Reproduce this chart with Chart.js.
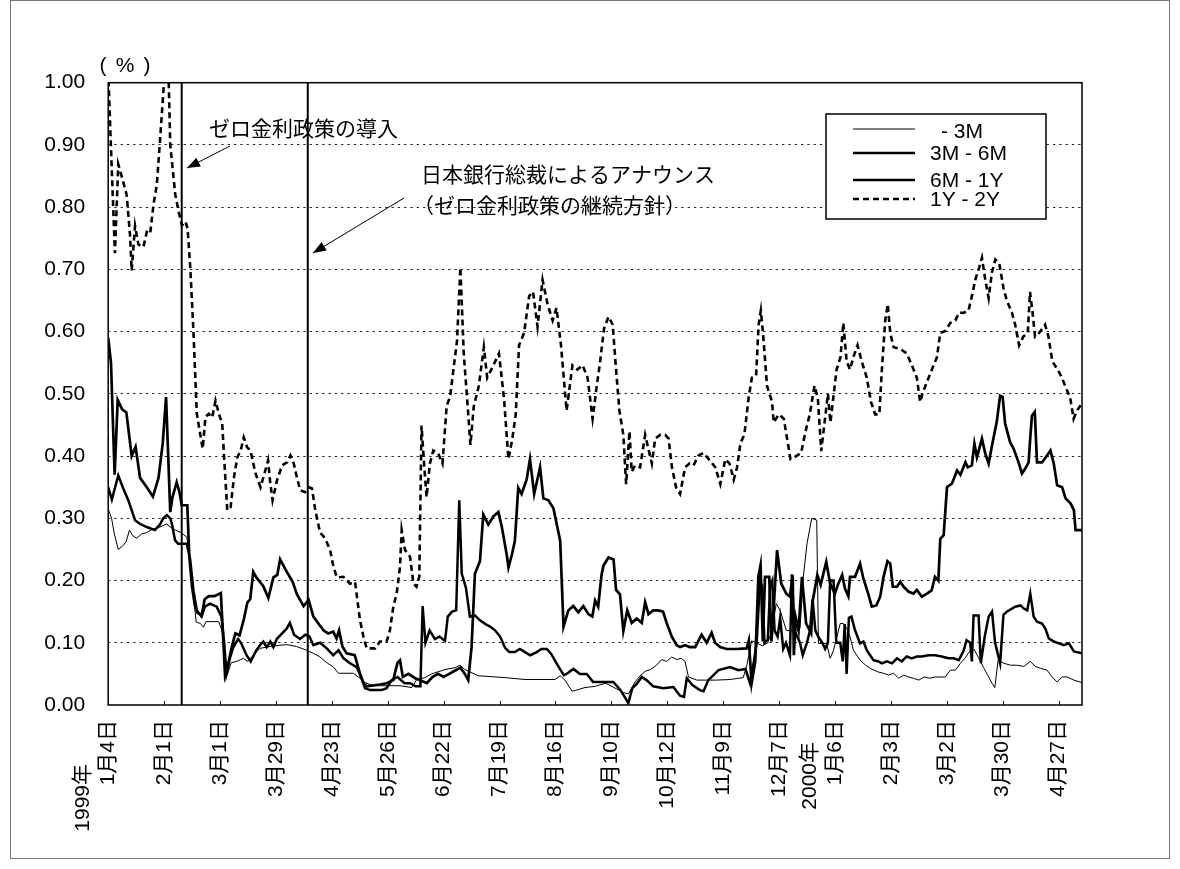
<!DOCTYPE html>
<html>
<head>
<meta charset="utf-8">
<script src="https://cdn.jsdelivr.net/npm/chart.js@4.4.1/dist/chart.umd.min.js"></script>
<style>
  body { margin: 0; background: #fff; }
</style>
</head>
<body>
<canvas id="myChart" width="1180" height="869"></canvas>
<script>
// x values are business-day counts from 1999/1/4 (one tick label every 20 days)
const tickLabels = ['1月4日', '2月1日', '3月1日', '3月29日', '4月23日', '5月26日', '6月22日', '7月19日', '8月16日',
  '9月10日', '10月12日', '11月9日', '12月7日', '1月6日', '2月3日', '3月2日', '3月30日', '4月27日']
const yearTicks = [0, 13]
const yearNames = ['1999年', '2000年']
const lastDay = 348.4
const eventDays = [26.3, 71.4]
const seriesNames = ['- 3M', '3M - 6M', '6M - 1Y', '1Y - 2Y']

// - 3M
const dayShort = [0, 1.2, 2.2, 3.6, 5, 6.4, 7.6, 8.8, 10.2, 12, 13.8, 16, 18, 19.5, 20.9, 22.5, 24.1, 26, 28.1, 29.3,
  30.5, 31.5, 33, 34.1, 35, 39.5, 40.7, 41.7, 42.6, 44, 46, 48.4, 50, 51.9, 54.3, 57.9, 61.5, 63.9, 67.4, 71,
  73.4, 75.5, 78.2, 80.6, 82.4, 87.7, 90.1, 91.9, 94.9, 97.8, 104.4, 108.6, 110.4, 113.3, 115.7, 120.5, 124.1, 125.9, 127.6, 132.4,
  142, 149.1, 159.9, 161.7, 163.4, 166, 170.6, 174.2, 178, 181, 184.3, 186.1, 188.5, 190.3, 192.1, 194, 196.2, 198, 199.8, 201.6,
  203.4, 205, 206.4, 207.6, 210.6, 217.7, 222.5, 227.2, 228.5, 230.2, 232, 234, 236, 237.5, 239, 240.4, 242.6, 245.7, 247.5, 248.7,
  250, 251.7, 253.5, 254.1, 257, 258.3, 259.5, 261.9, 263, 264.3, 265.4, 266.6, 269, 271, 273, 275.5, 277.4, 279.2, 281, 282.8,
  284.6, 286.4, 288, 290, 291.9, 294, 295.8, 297.7, 299.5, 301.3, 303.1, 304.9, 306.5, 308, 309.7, 311.5, 313.2, 315, 316.2, 317.2,
  318.4, 320.5, 322.8, 325, 327.6, 329.9, 331.7, 333.5, 335.9, 337.7, 339.5, 341.3, 343.1, 345.5, 348.4]
const valShort = [0.315, 0.30, 0.275, 0.25, 0.255, 0.262, 0.281, 0.272, 0.268, 0.275, 0.277, 0.283, 0.285, 0.288, 0.291, 0.285, 0.281, 0.277, 0.27, 0.235,
  0.175, 0.133, 0.131, 0.125, 0.134, 0.134, 0.12, 0.088, 0.048, 0.068, 0.07, 0.075, 0.07, 0.08, 0.091, 0.094, 0.096, 0.097, 0.094, 0.088,
  0.083, 0.078, 0.068, 0.061, 0.051, 0.051, 0.043, 0.036, 0.031, 0.031, 0.031, 0.028, 0.041, 0.044, 0.05, 0.057, 0.06, 0.064, 0.057, 0.047,
  0.044, 0.041, 0.041, 0.047, 0.04, 0.022, 0.028, 0.03, 0.035, 0.028, 0.02, 0.018, 0.037, 0.047, 0.054, 0.057, 0.064, 0.073, 0.07, 0.077,
  0.073, 0.075, 0.07, 0.045, 0.04, 0.04, 0.041, 0.044, 0.064, 0.103, 0.1, 0.095, 0.1, 0.12, 0.163, 0.152, 0.12, 0.118, 0.123, 0.206,
  0.259, 0.3, 0.297, 0.099, 0.099, 0.075, 0.088, 0.131, 0.131, 0.123, 0.11, 0.088, 0.072, 0.064, 0.058, 0.053, 0.051, 0.048, 0.051, 0.043,
  0.048, 0.045, 0.043, 0.04, 0.045, 0.043, 0.045, 0.045, 0.045, 0.056, 0.056, 0.067, 0.075, 0.085, 0.09, 0.075, 0.06, 0.045, 0.035, 0.028,
  0.072, 0.067, 0.064, 0.064, 0.062, 0.07, 0.062, 0.059, 0.056, 0.045, 0.037, 0.045, 0.045, 0.04, 0.036]

// 3M - 6M
const day3to6 = [0, 1.3, 3.6, 5.2, 7.2, 9.6, 11.4, 13.8, 16.7, 18.5, 19.7, 21, 22.2, 22.8, 23.9, 25, 28.1, 29.3, 30.5, 31.7,
  33.4, 34.6, 36.4, 38.8, 40.5, 41.5, 42.3, 43.5, 44.8, 46.5, 47.5, 49.5, 51, 53, 54.3, 55.5, 56.7, 58, 59.1, 60.3,
  61.8, 63.9, 65, 66.5, 68.6, 70.5, 72, 73.4, 75.8, 78.2, 80.5, 82.4, 84.2, 86.5, 88.9, 90.7, 91.9, 93.7, 97.8, 99.6,
  101.4, 103.5, 106, 108, 110, 111.7, 112.5, 113.5, 115, 116.9, 118.5, 120.5, 121.5, 123, 124.5, 125.6, 126.5, 128, 129.4, 131.2,
  133, 135, 136.6, 138.4, 140.2, 142, 143.5, 145.5, 147.3, 149.1, 151, 153.3, 155, 156.9, 158.5, 160, 161.6, 163, 164, 166.4,
  168.8, 171.2, 173.5, 180.7, 183.1, 184.5, 186.1, 187.5, 189.1, 190.9, 192.6, 195, 198.6, 202.2, 204.6, 206, 207, 209, 211.7, 213,
  214.7, 218.4, 222.5, 225.4, 228, 229.6, 231, 232, 233.2, 234, 234.8, 236, 236.8, 237.6, 238.4, 239.5, 240.4, 241.5, 242.5, 243.9,
  244.6, 245.5, 246.5, 247.5, 248.5, 250, 251.1, 252, 253, 254, 255.5, 256.5, 257.5, 258.3, 259.5, 260.5, 261.9, 262.8, 263.5, 264.2,
  265, 265.9, 267.2, 269, 270.2, 271.4, 272.6, 273.8, 275.6, 276.8, 278.6, 280.4, 282.2, 283.9, 285.7, 287.5, 289.3, 291.1, 293.5, 295.8,
  298.2, 300.6, 302.5, 304.3, 306.1, 307.1, 308.4, 309, 309.6, 311.4, 312.2, 313.6, 315, 316.2, 317.3, 319.1, 320.3, 321.5, 324.5, 326.4,
  327.6, 328.8, 329.9, 331.1, 332.3, 334.1, 335.3, 336.5, 338.3, 340.1, 341.9, 343.7, 345.5, 348.4]
const val3to6 = [0.35, 0.33, 0.369, 0.35, 0.329, 0.297, 0.291, 0.286, 0.281, 0.29, 0.30, 0.305, 0.30, 0.291, 0.265, 0.259, 0.259, 0.235, 0.184, 0.152,
  0.142, 0.158, 0.163, 0.158, 0.142, 0.10, 0.05, 0.075, 0.093, 0.106, 0.1, 0.08, 0.07, 0.088, 0.096, 0.102, 0.093, 0.102, 0.093, 0.106,
  0.113, 0.123, 0.132, 0.113, 0.106, 0.113, 0.11, 0.096, 0.1, 0.091, 0.08, 0.088, 0.075, 0.067, 0.061, 0.043, 0.027, 0.024, 0.024, 0.027,
  0.04, 0.045, 0.035, 0.035, 0.03, 0.03, 0.159, 0.10, 0.12, 0.106, 0.11, 0.103, 0.142, 0.15, 0.152, 0.329, 0.211, 0.188, 0.142, 0.144,
  0.136, 0.13, 0.126, 0.12, 0.11, 0.092, 0.085, 0.085, 0.09, 0.085, 0.08, 0.085, 0.09, 0.09, 0.082, 0.07, 0.058, 0.048, 0.05, 0.058,
  0.05, 0.05, 0.037, 0.037, 0.025, 0.015, 0.003, 0.027, 0.034, 0.045, 0.04, 0.03, 0.027, 0.029, 0.015, 0.013, 0.043, 0.032, 0.024, 0.022,
  0.04, 0.056, 0.061, 0.056, 0.058, 0.035, 0.07, 0.1, 0.2, 0.19, 0.1, 0.105, 0.19, 0.2, 0.12, 0.11, 0.14, 0.09, 0.1, 0.08,
  0.21, 0.12, 0.11, 0.1, 0.08, 0.1, 0.12, 0.17, 0.12, 0.11, 0.1, 0.09, 0.1, 0.2, 0.2, 0.1, 0.1, 0.07, 0.13, 0.05,
  0.14, 0.142, 0.12, 0.099, 0.102, 0.088, 0.08, 0.072, 0.07, 0.067, 0.07, 0.067, 0.075, 0.07, 0.078, 0.075, 0.078, 0.078, 0.08, 0.08,
  0.078, 0.075, 0.075, 0.072, 0.088, 0.104, 0.1, 0.07, 0.144, 0.144, 0.067, 0.11, 0.142, 0.15, 0.1, 0.067, 0.145, 0.15, 0.158, 0.16,
  0.155, 0.152, 0.179, 0.142, 0.134, 0.131, 0.123, 0.107, 0.102, 0.099, 0.096, 0.099, 0.086, 0.083]

// 6M - 1Y
const day6to1 = [0, 1, 2.3, 3.4, 5, 6.5, 8.4, 9.8, 11.4, 13.8, 16, 18, 19.5, 20.7, 22.2, 23, 24.5, 25.6, 26.3, 28.3,
  29, 30, 31, 32, 33.5, 34.5, 36, 38, 40.3, 41, 41.8, 43, 44.2, 45.5, 47, 48.6, 49.8, 50.8, 51.9, 53,
  55.5, 57.3, 59.1, 60.5, 61.5, 63.9, 66, 67.5, 69.9, 71.7, 73.4, 75.2, 77, 78.7, 80.5, 81.7, 82.6, 83.8, 85.3, 88.2,
  90.1, 91.3, 92.5, 97.2, 99.6, 102, 103.5, 104.4, 105.4, 107.4, 109.8, 111.5, 114, 116, 118, 120, 122, 124, 126, 127.6,
  128.8, 130, 131.2, 133, 134.2, 136, 137.8, 139.6, 140.8, 142.6, 143.2, 144.4, 145.5, 146.7, 147.9, 149.7, 150.9, 152.4, 154.5, 155.7,
  157.5, 159.3, 160.5, 161.7, 162.9, 164.6, 166.4, 168.2, 170, 171.8, 173.2, 174.2, 175.3, 176.5, 177.2, 179, 180.8, 181.7, 183.1, 184.3,
  185.7, 187.3, 189.1, 190.9, 192.1, 193.3, 195, 196.8, 198.5, 199.8, 201.6, 203.4, 204.6, 206.4, 208.1, 210, 212.3, 214.1, 215.9, 217.1,
  218.9, 221.3, 224.8, 228.4, 229.2, 230.2, 231.5, 232.6, 233.4, 234.2, 235, 236.5, 237.3, 237.9, 239.3, 240.8, 242.6, 243.9, 244.9, 245.3,
  246, 247, 248.2, 249.7, 251.5, 252.1, 253.7, 254.9, 256.9, 258.3, 260, 261.2, 262.6, 263.6, 264.8, 265.4, 267.2, 269, 270.2, 271.9,
  273.2, 274.8, 276.2, 277.4, 278.8, 279.8, 280.7, 282.2, 283.4, 284.6, 286.4, 288.1, 289.3, 291.1, 292.9, 294.6, 295.8, 297, 297.7, 298.9,
  300.1, 301.9, 303.7, 304.9, 306.7, 307.5, 309, 309.9, 310.8, 312.6, 313.8, 315, 316.2, 317.9, 319.1, 320, 320.9, 322.7, 323.9, 325.7,
  326.9, 328.1, 329.3, 329.9, 330.5, 331.5, 332.3, 334.1, 335.9, 337.1, 338.3, 339.5, 341.3, 342.5, 344.3, 345.5, 346.1, 348.4]
const val6to1 = [0.59, 0.55, 0.37, 0.49, 0.475, 0.47, 0.40, 0.415, 0.365, 0.35, 0.335, 0.365, 0.42, 0.495, 0.31, 0.334, 0.358, 0.34, 0.321, 0.321,
  0.24, 0.19, 0.16, 0.148, 0.145, 0.17, 0.175, 0.175, 0.18, 0.12, 0.048, 0.067, 0.093, 0.115, 0.112, 0.139, 0.165, 0.17, 0.214, 0.205,
  0.191, 0.172, 0.205, 0.209, 0.234, 0.214, 0.198, 0.178, 0.159, 0.169, 0.142, 0.131, 0.12, 0.115, 0.118, 0.107, 0.12, 0.094, 0.083, 0.08,
  0.05, 0.035, 0.03, 0.033, 0.035, 0.04, 0.068, 0.072, 0.045, 0.05, 0.043, 0.04, 0.035, 0.045, 0.05, 0.045, 0.05, 0.055, 0.06, 0.05,
  0.04, 0.093, 0.211, 0.231, 0.306, 0.29, 0.303, 0.31, 0.287, 0.241, 0.221, 0.241, 0.264, 0.349, 0.339, 0.362, 0.395, 0.339, 0.382, 0.332,
  0.329, 0.316, 0.29, 0.264, 0.126, 0.152, 0.159, 0.149, 0.159, 0.146, 0.142, 0.168, 0.158, 0.209, 0.224, 0.237, 0.234, 0.185, 0.178, 0.119,
  0.152, 0.132, 0.139, 0.132, 0.165, 0.146, 0.152, 0.152, 0.15, 0.132, 0.11, 0.096, 0.093, 0.096, 0.093, 0.093, 0.113, 0.1, 0.116, 0.1,
  0.093, 0.09, 0.09, 0.091, 0.104, 0.035, 0.07, 0.206, 0.225, 0.102, 0.206, 0.206, 0.102, 0.14, 0.249, 0.195, 0.179, 0.174, 0.209, 0.08,
  0.14, 0.12, 0.206, 0.131, 0.115, 0.168, 0.209, 0.193, 0.23, 0.195, 0.179, 0.195, 0.209, 0.187, 0.175, 0.206, 0.206, 0.227, 0.203, 0.179,
  0.158, 0.16, 0.174, 0.206, 0.231, 0.227, 0.19, 0.19, 0.198, 0.19, 0.182, 0.179, 0.185, 0.174, 0.179, 0.184, 0.206, 0.2, 0.267, 0.273,
  0.35, 0.356, 0.377, 0.37, 0.39, 0.382, 0.385, 0.42, 0.398, 0.428, 0.404, 0.388, 0.417, 0.455, 0.497, 0.495, 0.452, 0.422, 0.412, 0.39,
  0.372, 0.38, 0.39, 0.43, 0.465, 0.471, 0.39, 0.39, 0.401, 0.409, 0.388, 0.353, 0.35, 0.332, 0.324, 0.313, 0.281, 0.281]

// 1Y - 2Y
const day1to2 = [0, 1.2, 2.4, 3.6, 4.8, 6.6, 7.8, 8.4, 9.6, 10.8, 12.6, 13.8, 15, 16.2, 17.4, 18.6, 19.8, 20.6, 21.5, 22.2,
  24, 25.2, 26.4, 27.6, 28.4, 29.4, 30.5, 31.7, 32.9, 33.8, 34.8, 36, 37.2, 38.4, 39.6, 40.8, 41.6, 42.6, 43.8, 45,
  46.2, 47.4, 48.5, 49.7, 50.9, 52.7, 54.5, 55.9, 57.2, 58, 58.8, 60.4, 62.2, 64, 65.2, 66.4, 67.5, 68.7, 70.5, 71.7,
  72.9, 74.1, 75.8, 77.6, 79.4, 80.6, 81.8, 84.2, 86.5, 88.3, 90.1, 91.3, 92.5, 95.5, 97.2, 99.6, 100.8, 102, 103.2, 104.4,
  105, 106.2, 108, 109.2, 110.3, 111.3, 112.1, 113, 113.9, 115.1, 116.3, 118.1, 119.6, 121.1, 122.3, 124.1, 124.8, 126, 127.2, 128.4,
  129.6, 130.8, 132.6, 134.4, 135.6, 137.4, 139.8, 141.6, 143.2, 144.6, 145.8, 147, 148.8, 150.6, 152, 153.6, 155.4, 157.2, 159, 160.4,
  162, 164, 166.1, 167.9, 169.7, 171.5, 173.3, 174.8, 176, 177.4, 179, 180.5, 181.7, 182.9, 184.3, 185.3, 186.5, 187.3, 188.5, 190.3,
  192.1, 193.3, 194.5, 195.7, 197.5, 199.3, 200.5, 201.7, 203.2, 204.6, 206.4, 208, 209.4, 211.2, 213, 215.4, 217.2, 219, 220.8, 222.3,
  223.8, 225, 226.2, 227.6, 229.1, 230.3, 231.8, 232.7, 233.5, 234.5, 235.7, 237.5, 238.1, 239.9, 241.7, 242.9, 244.1, 245.5, 247.9, 249.5,
  251, 252.7, 253.9, 255.1, 256.3, 257.5, 258.4, 260.6, 262, 263, 264.2, 265.4, 266.6, 268.1, 269.6, 271.4, 272.9, 274.4, 275.9, 276.8,
  278, 278.9, 279.8, 281, 283.4, 285.7, 287.5, 289.3, 290.5, 291.3, 292.9, 294.7, 296.5, 297.7, 299.5, 301.3, 303.1, 304.5, 306, 307.8,
  309, 310.2, 311.6, 312.6, 313.8, 315, 316.2, 317.4, 318.8, 320.3, 321.5, 323.3, 324.5, 325.9, 327.4, 329, 329.8, 330.7, 331.6, 333.1,
  335.2, 336.4, 337.8, 339.7, 341.2, 343, 344.2, 345.4, 346.6, 348.4]
const val1to2 = [1.02, 0.87, 0.726, 0.869, 0.85, 0.82, 0.756, 0.698, 0.77, 0.74, 0.736, 0.76, 0.757, 0.804, 0.836, 0.911, 0.99, 1.03, 1.03, 0.9,
  0.82, 0.793, 0.771, 0.777, 0.766, 0.70, 0.6, 0.468, 0.436, 0.412, 0.463, 0.468, 0.462, 0.489, 0.468, 0.452, 0.388, 0.313, 0.318, 0.366,
  0.398, 0.409, 0.43, 0.414, 0.409, 0.372, 0.35, 0.372, 0.393, 0.356, 0.329, 0.361, 0.385, 0.39, 0.401, 0.388, 0.366, 0.345, 0.342, 0.35,
  0.348, 0.313, 0.277, 0.268, 0.249, 0.222, 0.205, 0.206, 0.195, 0.198, 0.136, 0.11, 0.091, 0.091, 0.102, 0.102, 0.12, 0.158, 0.179, 0.222,
  0.281, 0.249, 0.238, 0.195, 0.19, 0.206, 0.449, 0.388, 0.334, 0.388, 0.409, 0.404, 0.388, 0.481, 0.495, 0.56, 0.585, 0.703, 0.565, 0.493,
  0.418, 0.48, 0.513, 0.575, 0.526, 0.542, 0.565, 0.493, 0.395, 0.428, 0.467, 0.578, 0.598, 0.657, 0.664, 0.608, 0.683, 0.644, 0.618, 0.638,
  0.578, 0.473, 0.546, 0.539, 0.546, 0.526, 0.46, 0.513, 0.552, 0.605, 0.624, 0.611, 0.539, 0.473, 0.434, 0.355, 0.44, 0.375, 0.385, 0.382,
  0.434, 0.411, 0.388, 0.428, 0.434, 0.434, 0.428, 0.382, 0.349, 0.339, 0.382, 0.388, 0.385, 0.401, 0.405, 0.392, 0.382, 0.355, 0.395, 0.388,
  0.362, 0.382, 0.421, 0.434, 0.493, 0.526, 0.529, 0.611, 0.634, 0.585, 0.513, 0.487, 0.454, 0.467, 0.46, 0.428, 0.395, 0.398, 0.405, 0.44,
  0.467, 0.513, 0.493, 0.408, 0.454, 0.5, 0.454, 0.539, 0.559, 0.614, 0.552, 0.539, 0.559, 0.578, 0.552, 0.526, 0.487, 0.467, 0.467, 0.539,
  0.618, 0.644, 0.598, 0.575, 0.572, 0.565, 0.546, 0.526, 0.487, 0.5, 0.519, 0.539, 0.559, 0.598, 0.601, 0.614, 0.618, 0.631, 0.63, 0.634,
  0.657, 0.683, 0.703, 0.719, 0.683, 0.654, 0.696, 0.716, 0.71, 0.67, 0.65, 0.631, 0.611, 0.578, 0.592, 0.598, 0.664, 0.631, 0.592, 0.598,
  0.611, 0.592, 0.552, 0.539, 0.526, 0.506, 0.493, 0.46, 0.473, 0.485]

const pairs = (days, vals) => days.map((d, k) => ({ x: d, y: vals[k] }))

const latin = "'Liberation Sans', Arial, 'Noto Sans CJK JP', sans-serif"
const jp = "'Noto Sans CJK JP', 'Liberation Sans', sans-serif"

// frame, plot border, inside tick marks, event lines, notes, legend, year labels
const decorations = {
  id: 'decorations',
  afterDraw(chart) {
    const ctx = chart.ctx
    const area = chart.chartArea
    const xs = chart.scales.x
    ctx.save()

    // outer frame
    ctx.strokeStyle = '#777'
    ctx.lineWidth = 1
    ctx.strokeRect(10.5, 0.5, 1159, 858)

    // plot border
    ctx.strokeStyle = '#000'
    ctx.lineWidth = 1.5
    ctx.strokeRect(area.left, area.top, area.right - area.left, area.bottom - area.top)

    // small tick marks pointing up from the x axis
    ctx.lineWidth = 1
    for (let k = 0; k < tickLabels.length; k++) {
      const px = Math.round(xs.getPixelForValue(k * 20)) + 0.5
      ctx.beginPath()
      ctx.moveTo(px, area.bottom)
      ctx.lineTo(px, area.bottom - 4)
      ctx.stroke()
    }

    // policy event lines
    ctx.lineWidth = 2
    eventDays.forEach(d => {
      const px = xs.getPixelForValue(d)
      ctx.beginPath()
      ctx.moveTo(px, area.top)
      ctx.lineTo(px, area.bottom)
      ctx.stroke()
    })

    // notes
    ctx.fillStyle = '#000'
    ctx.font = '21px ' + jp
    ctx.textAlign = 'left'
    ctx.textBaseline = 'middle'
    ctx.fillText('ゼロ金利政策の導入', 209, 128)
    ctx.fillText('日本銀行総裁によるアナウンス', 421, 174)
    ctx.fillText('（ゼロ金利政策の継続方針）', 413, 205)
    // unit label, spaced like full-width brackets
    ctx.font = '21px ' + latin
    ctx.textAlign = 'center'
    ctx.fillText('(', 103, 66)
    ctx.fillText('%', 125, 66)
    ctx.fillText(')', 147, 66)

    const arrow = (x1, y1, x2, y2) => {
      ctx.lineWidth = 1
      ctx.beginPath()
      ctx.moveTo(x1, y1)
      ctx.lineTo(x2, y2)
      ctx.stroke()
      const a = Math.atan2(y2 - y1, x2 - x1)
      ctx.beginPath()
      ctx.moveTo(x2, y2)
      ctx.lineTo(x2 - 13 * Math.cos(a) + 5 * Math.sin(a), y2 - 13 * Math.sin(a) - 5 * Math.cos(a))
      ctx.lineTo(x2 - 13 * Math.cos(a) - 5 * Math.sin(a), y2 - 13 * Math.sin(a) + 5 * Math.cos(a))
      ctx.closePath()
      ctx.fill()
    }
    arrow(230, 146, 187, 168)
    arrow(404, 198, 313, 253)

    // legend box
    ctx.lineWidth = 1.5
    ctx.fillStyle = '#fff'
    ctx.fillRect(826, 114, 220, 105)
    ctx.strokeRect(826, 114, 220, 105)
    const sampleY = [129, 153, 180, 199]
    const textY = [132, 154, 181, 200]
    chart.data.datasets.forEach((ds, k) => {
      ctx.strokeStyle = '#000'
      ctx.lineWidth = ds.borderWidth
      ctx.setLineDash(ds.borderDash || [])
      ctx.beginPath()
      ctx.moveTo(853, sampleY[k])
      ctx.lineTo(915, sampleY[k])
      ctx.stroke()
      ctx.setLineDash([])
      ctx.fillStyle = '#000'
      ctx.font = '21px ' + latin
      ctx.textAlign = 'left'
      ctx.textBaseline = 'middle'
      ctx.fillText(ds.label, k === 0 ? 941 : 930, textY[k])
    })

    // year labels beside the first tick of each year
    ctx.font = '21px ' + latin
    ctx.textAlign = 'right'
    ctx.textBaseline = 'middle'
    const yearTop = [764, 742]
    yearTicks.forEach((t, k) => {
      const px = xs.getPixelForValue(t * 20) - 24.5
      ctx.save()
      ctx.translate(px, yearTop[k])
      ctx.rotate(-Math.PI / 2)
      ctx.fillText(yearNames[k], 0, 0)
      ctx.restore()
    })

    ctx.restore()
  }
}

const myChart = new Chart(document.getElementById('myChart').getContext('2d'), {
  type: 'line',
  data: {
    datasets: [
      { label: seriesNames[0], data: pairs(dayShort, valShort), borderColor: '#000', borderWidth: 1 },
      { label: seriesNames[1], data: pairs(day3to6, val3to6), borderColor: '#000', borderWidth: 2.5 },
      { label: seriesNames[2], data: pairs(day6to1, val6to1), borderColor: '#000', borderWidth: 2.7 },
      { label: seriesNames[3], data: pairs(day1to2, val1to2), borderColor: '#000', borderWidth: 2.6, borderDash: [6, 4] }
    ]
  },
  options: {
    responsive: false,
    animation: false,
    devicePixelRatio: 1,
    elements: { point: { radius: 0 }, line: { tension: 0, fill: false } },
    layout: { padding: { top: 82.7, right: 98, left: 0, bottom: 0 } },
    plugins: { legend: { display: false }, tooltip: { enabled: false } },
    scales: {
      x: {
        type: 'linear',
        min: 0,
        max: lastDay,
        afterFit: (scale) => { scale.height = 164 },
        grid: { display: false, drawTicks: false },
        border: { display: false },
        ticks: {
          stepSize: 20,
          includeBounds: false,
          autoSkip: false,
          minRotation: 90,
          maxRotation: 90,
          padding: 15,
          color: '#000',
          font: { family: latin, size: 21 },
          callback: (v) => tickLabels[Math.round(v / 20)] || ''
        }
      },
      y: {
        min: 0,
        max: 1,
        afterFit: (scale) => { scale.width = 108.2 },
        grid: {
          drawTicks: false,
          color: (c) => (c.tick.value <= 0 || c.tick.value >= 1) ? 'rgba(0,0,0,0)' : '#222',
          lineWidth: 1
        },
        border: { display: false, dash: [2.3, 4] },
        ticks: {
          stepSize: 0.1,
          padding: 23,
          color: '#000',
          font: { family: latin, size: 21 },
          callback: (v) => v.toFixed(2)
        }
      }
    }
  },
  plugins: [decorations]
})
</script>
</body>
</html>
